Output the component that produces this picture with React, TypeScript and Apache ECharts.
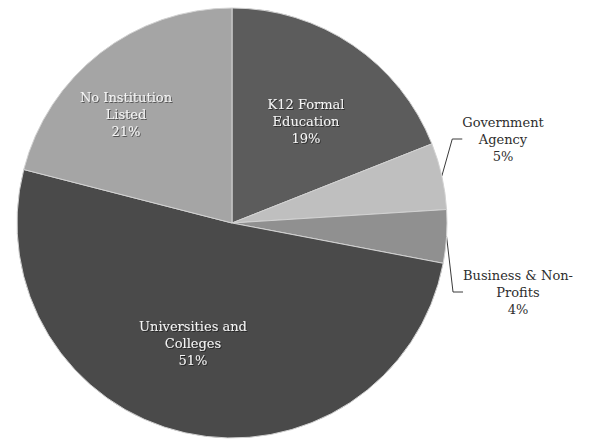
import React, { useEffect, useRef } from "react";
import * as echarts from "echarts";

const categories = [
  "K12 Formal\nEducation",
  "Government\nAgency",
  "Business & Non-\nProfits",
  "Universities and\nColleges",
  "No Institution\nListed",
];
const values = [19, 5, 4, 51, 21];
const colors = ["#5c5c5c", "#bfbfbf", "#909090", "#4a4a4a", "#a5a5a5"];
const inside = [true, false, false, true, true];
// label centres in chart pixels
const labelPos: [number, number][] = [
  [306, 121],
  [503, 139],
  [518, 292],
  [193, 343],
  [126, 114],
];

export default function App() {
  const ref = useRef<HTMLDivElement>(null);
  useEffect(() => {
    if (!ref.current) return;
    const chart = echarts.init(ref.current, null, { renderer: "svg" });
    const font = "DejaVu Serif";
    chart.setOption({
      animation: false,
      backgroundColor: "#ffffff",
      series: [
        {
          type: "pie",
          center: [232, 223],
          radius: [0, 215],
          startAngle: 90,
          clockwise: true,
          avoidLabelOverlap: false,
          data: categories.map((name, i) => ({
            name,
            value: values[i],
            itemStyle: { color: colors[i] },
            label: inside[i]
              ? { position: "inside", color: "#f4f4f4", textShadowColor: "rgba(0,0,0,0.5)", textShadowBlur: 1, textShadowOffsetX: 1, textShadowOffsetY: 1 }
              : { position: "outside", color: "#2e2e2e" },
            labelLine: { show: !inside[i], length: 10, length2: 10, lineStyle: { color: "#3a3a3a", width: 1 } },
          })),
          itemStyle: { borderColor: "#d2d2d2", borderWidth: 1 },
          label: {
            show: true,
            fontFamily: font,
            fontSize: 13,
            lineHeight: 17,
            align: "center",
            formatter: (p: any) => `${p.name}\n${p.value}%`,
          },
          labelLayout: (p: any) => {
            const pos = labelPos[p.dataIndex];
            return { x: pos[0], y: pos[1], align: "center", verticalAlign: "middle" };
          },
          emphasis: { disabled: true },
        },
      ],
    });
    return () => chart.dispose();
  }, []);
  return (
    <div
      ref={ref}
      style={{ position: "absolute", left: 0, top: 0, width: 593, height: 442 }}
    />
  );
}
